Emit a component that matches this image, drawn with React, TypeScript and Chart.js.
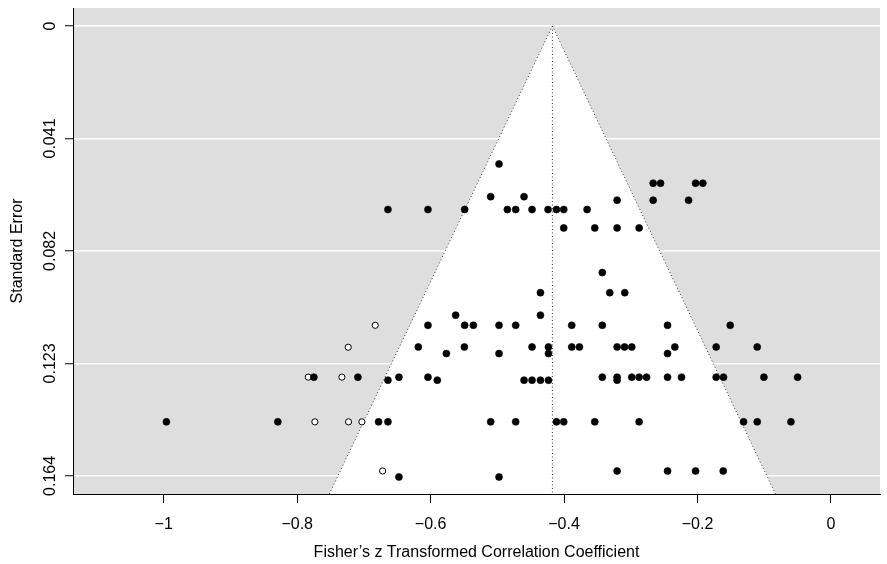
import React, { useEffect, useRef } from 'react';
import { Chart, registerables } from 'chart.js';

Chart.register(...registerables);

// Pooled estimate and funnel critical value
const pooledEstimate = -0.4175;
const zCrit = 1.96;

// Axis ticks and limits
const xTicks = [-1, -0.8, -0.6, -0.4, -0.2, 0];
const xTickLabels = ['\u22121', '\u22120.8', '\u22120.6', '\u22120.4', '\u22120.2', '0'];
const yTicks = [0, 0.041, 0.082, 0.123, 0.164];
const yTickLabels = ['0', '0.041', '0.082', '0.123', '0.164'];
const xLimits = [-1.136, 0.0735];
const yLimits = [-0.00656, 0.1706];

// Observed studies (Fisher's z, standard error)
const observedZ = [
  -0.4975,
  -0.2665, -0.2554, -0.2029, -0.192,
  -0.51, -0.46,
  -0.3205, -0.2665, -0.2134,
  -0.664, -0.604, -0.549, -0.485, -0.4725, -0.448, -0.424, -0.4114, -0.4005, -0.3655,
  -0.4005, -0.354, -0.3205, -0.2875,
  -0.3427,
  -0.4354, -0.3315, -0.309,
  -0.5625, -0.4354,
  -0.604, -0.549, -0.536, -0.4975, -0.4725, -0.3885, -0.3427, -0.2449, -0.151,
  -0.6184, -0.5494, -0.448, -0.4234, -0.3885, -0.377, -0.3205, -0.3094, -0.2985, -0.234, -0.172, -0.1105,
  -0.5764, -0.4975, -0.4234, -0.2449,
  -0.775, -0.709, -0.6475, -0.604, -0.3427, -0.3205, -0.2985, -0.2875, -0.2764, -0.2449, -0.224, -0.172, -0.161, -0.1005, -0.05,
  -0.664, -0.59, -0.46, -0.448, -0.4354, -0.4234, -0.3205,
  -0.996, -0.829, -0.678, -0.664, -0.51, -0.4725, -0.4114, -0.4005, -0.354, -0.2875, -0.131, -0.1105, -0.06,
  -0.3205, -0.2449, -0.2029, -0.1615,
  -0.6475, -0.4975,
];
const observedSE = [
  0.0503,
  0.0573, 0.0573, 0.0573, 0.0573,
  0.0622, 0.0622,
  0.0635, 0.0635, 0.0635,
  0.0669, 0.0669, 0.0669, 0.0669, 0.0669, 0.0669, 0.0669, 0.0669, 0.0669, 0.0669,
  0.0736, 0.0736, 0.0736, 0.0736,
  0.0899,
  0.0972, 0.0972, 0.0972,
  0.1054, 0.1054,
  0.1091, 0.1091, 0.1091, 0.1091, 0.1091, 0.1091, 0.1091, 0.1091, 0.1091,
  0.117, 0.117, 0.117, 0.117, 0.117, 0.117, 0.117, 0.117, 0.117, 0.117, 0.117, 0.117,
  0.1194, 0.1194, 0.1194, 0.1194,
  0.128, 0.128, 0.128, 0.128, 0.128, 0.128, 0.128, 0.128, 0.128, 0.128, 0.128, 0.128, 0.128, 0.128, 0.128,
  0.1291, 0.1291, 0.1291, 0.1291, 0.1291, 0.1291, 0.1291,
  0.1443, 0.1443, 0.1443, 0.1443, 0.1443, 0.1443, 0.1443, 0.1443, 0.1443, 0.1443, 0.1443, 0.1443, 0.1443,
  0.1622, 0.1622, 0.1622, 0.1622,
  0.1644, 0.1644,
];

// Imputed (filled) studies
const imputedZ = [-0.683, -0.7235, -0.7834, -0.733, -0.7735, -0.723, -0.703, -0.672];
const imputedSE = [0.1091, 0.1171, 0.128, 0.128, 0.1443, 0.1443, 0.1443, 0.1622];

const FONT = { family: "'Liberation Sans', Arial, Helvetica, sans-serif", size: 16 };

const plotBackground = {
  id: 'plotBackground',
  beforeDraw(chart: any) {
    const { ctx, chartArea: a } = chart;
    ctx.save();
    ctx.fillStyle = '#dedede';
    ctx.fillRect(a.left, a.top, a.right - a.left, a.bottom - a.top);
    ctx.restore();
  },
};

export default function App() {
  const ref = useRef<HTMLCanvasElement>(null);

  useEffect(() => {
    if (!ref.current) return;
    const yBottom = yLimits[1];
    const observed = observedZ.map((z, i) => ({ x: z, y: observedSE[i] }));
    const imputed = imputedZ.map((z, i) => ({ x: z, y: imputedSE[i] }));
    const funnel = [
      { x: pooledEstimate - zCrit * yBottom, y: yBottom },
      { x: pooledEstimate, y: 0 },
      { x: pooledEstimate + zCrit * yBottom, y: yBottom },
    ];
    const centre = [
      { x: pooledEstimate, y: 0 },
      { x: pooledEstimate, y: yBottom },
    ];

    const chart = new Chart(ref.current, {
      type: 'scatter',
      data: {
        datasets: [
          {
            label: 'Observed',
            data: observed,
            pointRadius: 3.5,
            pointBackgroundColor: '#000',
            pointBorderColor: '#000',
            pointBorderWidth: 0.6,
            order: 0,
          },
          {
            label: 'Imputed',
            data: imputed,
            pointRadius: 3.1,
            pointBackgroundColor: '#fff',
            pointBorderColor: '#000',
            pointBorderWidth: 1,
            order: 1,
          },
          {
            type: 'line',
            label: 'Estimate',
            data: centre,
            borderColor: '#333',
            borderWidth: 1,
            borderDash: [1, 2.5],
            pointRadius: 0,
            fill: false,
            order: 2,
            clip: 0,
          } as any,
          {
            type: 'line',
            label: 'Funnel',
            data: funnel,
            borderColor: '#333',
            borderWidth: 1,
            borderDash: [1, 2.5],
            backgroundColor: '#ffffff',
            fill: 'shape',
            pointRadius: 0,
            tension: 0,
            order: 3,
            clip: 0,
          } as any,
        ],
      },
      options: {
        responsive: false,
        animation: false,
        devicePixelRatio: 1,
        layout: { padding: { left: 0, right: 7, top: 8, bottom: 0 } },
        plugins: { legend: { display: false }, tooltip: { enabled: false } },
        scales: {
          x: {
            type: 'linear',
            min: xLimits[0],
            max: xLimits[1],
            afterBuildTicks: (s: any) => {
              s.ticks = xTicks.map((v) => ({ value: v }));
            },
            afterFit: (s: any) => {
              s.height = 70;
              s.paddingLeft = 0;
              s.paddingRight = 0;
            },
            ticks: {
              callback: (v: any) => xTickLabels[xTicks.indexOf(v)],
              font: FONT,
              color: '#000',
              padding: 12,
              maxRotation: 0,
              autoSkip: false,
            },
            grid: { drawOnChartArea: false, drawTicks: true, tickLength: 9, tickColor: '#000', tickWidth: 1 },
            border: { display: true, color: '#000', width: 1, z: 1 },
            title: {
              display: true,
              text: 'Fisher\u2019s z Transformed Correlation Coefficient',
              font: FONT,
              color: '#000',
              padding: { top: 0, bottom: 2 },
            },
          },
          y: {
            type: 'linear',
            reverse: true,
            min: yLimits[0],
            max: yLimits[1],
            afterBuildTicks: (s: any) => {
              s.ticks = yTicks.map((v) => ({ value: v }));
            },
            afterFit: (s: any) => {
              s.width = 73;
              s.paddingTop = 0;
              s.paddingBottom = 0;
            },
            ticks: {
              callback: (v: any) => yTickLabels[yTicks.indexOf(v)],
              font: FONT,
              color: '#000',
              minRotation: 90,
              maxRotation: 90,
              crossAlign: 'center',
              padding: -6,
              autoSkip: false,
            },
            grid: { color: '#ffffff', lineWidth: 1.5, drawTicks: true, tickLength: 8, tickColor: '#000', tickWidth: 1 },
            border: { display: true, color: '#000', width: 1, z: 1 },
            title: {
              display: true,
              text: 'Standard Error',
              font: FONT,
              color: '#000',
              padding: { top: 8, bottom: 0 },
            },
          },
        },
      } as any,
      plugins: [plotBackground],
    });
    return () => chart.destroy();
  }, []);

  return (
    <div style={{ position: 'absolute', left: 0, top: 0, width: 887, height: 564, background: '#fff' }}>
      <canvas ref={ref} width={887} height={564} style={{ display: 'block', width: 887, height: 564 }} />
    </div>
  );
}
